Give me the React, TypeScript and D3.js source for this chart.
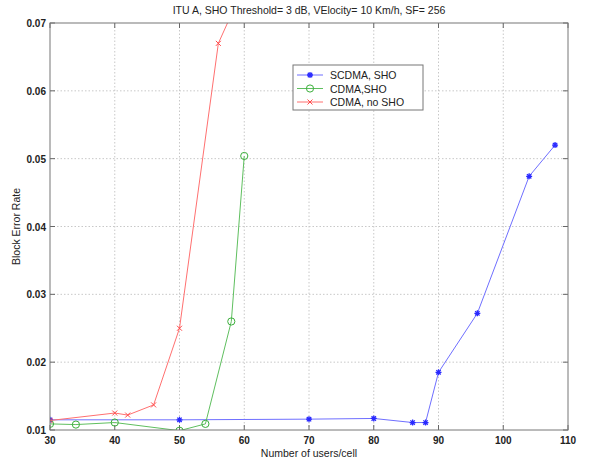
import React from "react";
import * as d3 from "d3";

const title = "ITU A, SHO Threshold= 3 dB, VElocity= 10 Km/h, SF= 256";
const xLabel = "Number of users/cell";
const yLabel = "Block Error Rate";
const xTicks = [30, 40, 50, 60, 70, 80, 90, 100, 110];
const yTicks = [0.01, 0.02, 0.03, 0.04, 0.05, 0.06, 0.07];

const scdmaX = [30, 50, 70, 80, 86, 88, 90, 96, 104, 108];
const scdmaY = [0.0115, 0.0115, 0.0116, 0.0117, 0.0111, 0.0111, 0.0185, 0.0272, 0.0474, 0.052];
const cdmaShoX = [30, 34, 40, 50, 54, 58, 60];
const cdmaShoY = [0.0109, 0.0108, 0.0111, 0.0099, 0.0109, 0.026, 0.0504];
const cdmaNoX = [30, 40, 42, 46, 50, 56, 60];
const cdmaNoY = [0.0114, 0.0125, 0.0122, 0.0137, 0.025, 0.067, 0.0755];

const seriesNames = ["SCDMA, SHO", "CDMA,SHO", "CDMA, no SHO"];
const lineColors = ["#6f6fff", "#5fbf5f", "#ff7070"];
const markColors = ["#2a2aff", "#3caf3c", "#ff4a4a"];

const W = 591, H = 467;
const L = 50, R = 568, T = 23, B = 430;

export default function App() {
  const x = d3.scaleLinear().domain([30, 110]).range([L, R]);
  const y = d3.scaleLinear().domain([0.01, 0.07]).range([B, T]);
  const line = d3.line<[number, number]>().x(d => x(d[0])).y(d => y(d[1]));
  const series = [
    { xs: scdmaX, ys: scdmaY, marker: "star" },
    { xs: cdmaShoX, ys: cdmaShoY, marker: "circle" },
    { xs: cdmaNoX, ys: cdmaNoY, marker: "x" },
  ];
  const marker = (type: string, cx: number, cy: number, color: string, key: any) => {
    if (type === "circle") return <circle key={key} cx={cx} cy={cy} r={3.6} fill="none" stroke={color} strokeWidth={1} />;
    if (type === "x") return (
      <path key={key} d={`M${cx - 2.5},${cy - 2.5}L${cx + 2.5},${cy + 2.5}M${cx - 2.5},${cy + 2.5}L${cx + 2.5},${cy - 2.5}`} stroke={color} strokeWidth={1} />
    );
    return (
      <path key={key} d={`M${cx - 2.2},${cy - 2.2}L${cx + 2.2},${cy + 2.2}M${cx - 2.2},${cy + 2.2}L${cx + 2.2},${cy - 2.2}M${cx - 3},${cy}L${cx + 3},${cy}M${cx},${cy - 3}L${cx},${cy + 3}`} stroke={color} strokeWidth={1.3} />
    );
  };
  const font = "Liberation Sans, Arial, sans-serif";
  return (
    <svg width={W} height={H} style={{ position: "absolute", left: 0, top: 0, background: "#fff" }} fontFamily={font}>
      <rect x={0} y={0} width={W} height={H} fill="#fff" />
      <defs>
        <clipPath id="plot"><rect x={L} y={T} width={R - L} height={B - T} /></clipPath>
      </defs>
      {xTicks.slice(1, -1).map(t => (
        <line key={"gx" + t} x1={x(t)} x2={x(t)} y1={T} y2={B} stroke="#c8c8c8" strokeDasharray="1.5,2" strokeWidth={1} />
      ))}
      {yTicks.slice(1, -1).map(t => (
        <line key={"gy" + t} x1={L} x2={R} y1={y(t)} y2={y(t)} stroke="#c8c8c8" strokeDasharray="1.5,2" strokeWidth={1} />
      ))}
      {xTicks.map(t => (
        <g key={"tx" + t}>
          <line x1={x(t)} x2={x(t)} y1={B} y2={B - 5} stroke="#666" />
          <line x1={x(t)} x2={x(t)} y1={T} y2={T + 5} stroke="#666" />
          <text x={x(t)} y={B + 14} textAnchor="middle" fontSize={10} fontWeight="bold" fill="#222">{t}</text>
        </g>
      ))}
      {yTicks.map(t => (
        <g key={"ty" + t}>
          <line x1={L} x2={L + 5} y1={y(t)} y2={y(t)} stroke="#666" />
          <line x1={R} x2={R - 5} y1={y(t)} y2={y(t)} stroke="#666" />
          <text x={L - 4} y={y(t) + 4} textAnchor="end" fontSize={10} fontWeight="bold" fill="#222">{t.toFixed(2)}</text>
        </g>
      ))}
      <g clipPath="url(#plot)">
        {series.map((s, i) => {
          const pts = s.xs.map((v, j) => [v, s.ys[j]] as [number, number]);
          return (
            <g key={"s" + i}>
              <path d={line(pts) || ""} fill="none" stroke={lineColors[i]} strokeWidth={1} />
              {pts.map((p, j) => marker(s.marker, x(p[0]), y(p[1]), markColors[i], j))}
            </g>
          );
        })}
      </g>
      <rect x={L} y={T} width={R - L} height={B - T} fill="none" stroke="#777" strokeWidth={1} />
      <text x={(L + R) / 2} y={14} textAnchor="middle" fontSize={10.5} fill="#222">{title}</text>
      <text x={(L + R) / 2} y={457} textAnchor="middle" fontSize={10.5} fill="#222">{xLabel}</text>
      <text transform={`translate(20,${(T + B) / 2}) rotate(-90)`} textAnchor="middle" fontSize={10.5} fill="#222">{yLabel}</text>
      <g>
        <rect x={293} y={65} width={130} height={45} fill="#fff" stroke="#777" strokeWidth={1} />
        {seriesNames.map((n, i) => {
          const ly = 75 + i * 13.5;
          return (
            <g key={"l" + i}>
              <line x1={297} x2={323} y1={ly} y2={ly} stroke={lineColors[i]} strokeWidth={1} />
              {marker(series[i].marker, 310, ly, markColors[i], "m" + i)}
              <text x={330} y={ly + 4} fontSize={10.5} fill="#222">{n}</text>
            </g>
          );
        })}
      </g>
    </svg>
  );
}
